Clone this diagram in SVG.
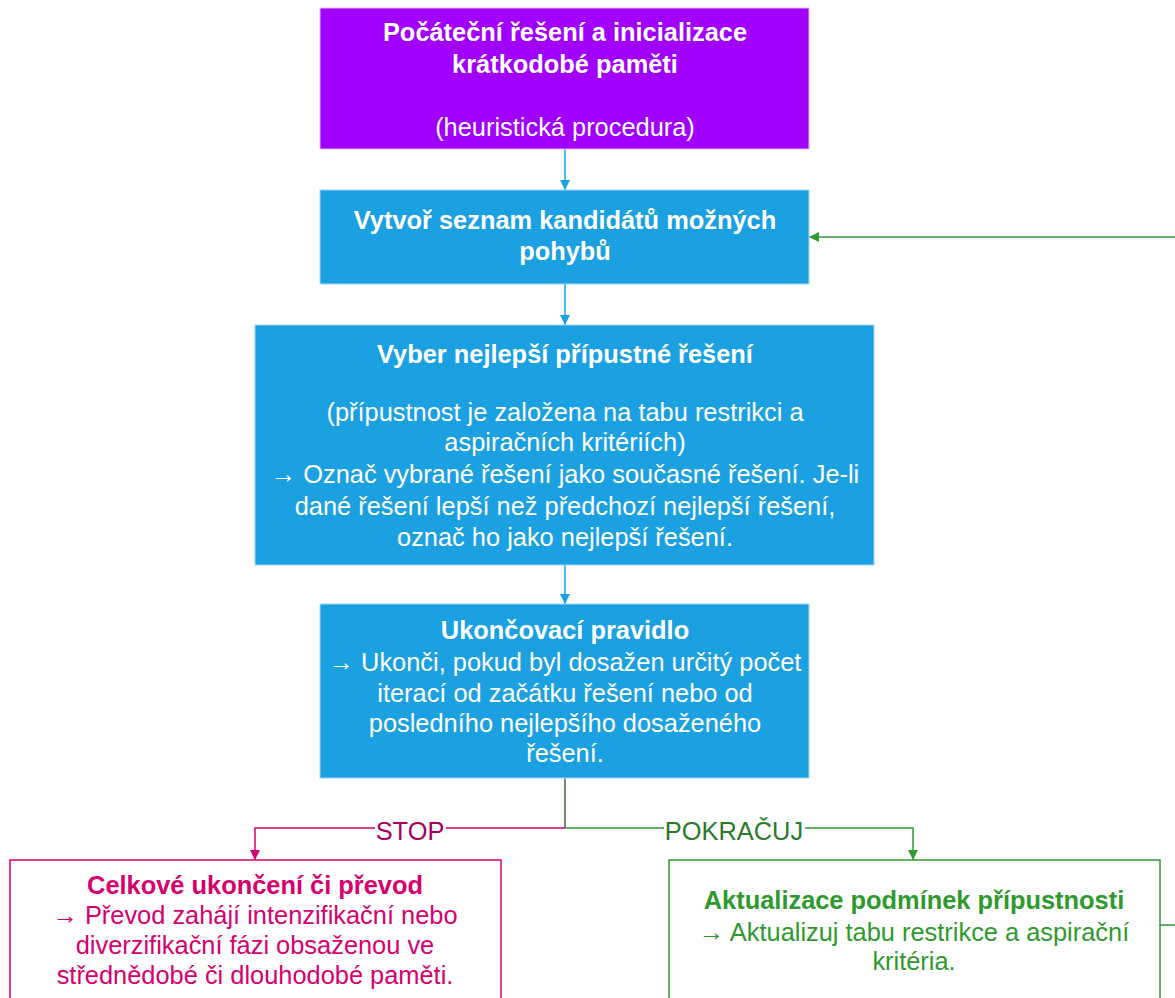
<svg xmlns="http://www.w3.org/2000/svg" width="1175" height="998" viewBox="0 0 1175 998">
  <style>
    text { font-family: "Liberation Sans", Arial, sans-serif; font-size: 25.4px; text-anchor: middle; }
    .b { font-weight: bold; }
    .w { fill: #ffffff; }
    .pk { fill: #d6006e; }
    .gr { fill: #2e9a2e; }
    .blue { fill: #1ba1e2; stroke: #9fd6f3; stroke-width: 1; }
  </style>
  <defs>
    <marker id="ab" viewBox="0 0 10 10" refX="10" refY="5" markerWidth="10" markerHeight="10" markerUnits="userSpaceOnUse" orient="auto">
      <path d="M0,0 L10,5 L0,10 z" fill="#1ba1e2"/>
    </marker>
    <marker id="ap" viewBox="0 0 10 10" refX="10" refY="5" markerWidth="10" markerHeight="10" markerUnits="userSpaceOnUse" orient="auto">
      <path d="M0,0 L10,5 L0,10 z" fill="#d80073"/>
    </marker>
    <marker id="ag" viewBox="0 0 10 10" refX="10" refY="5" markerWidth="10" markerHeight="10" markerUnits="userSpaceOnUse" orient="auto">
      <path d="M0,0 L10,5 L0,10 z" fill="#339933"/>
    </marker>
  </defs>

  <g id="connectors" fill="none" stroke-width="1.5">
    <path d="M565,149 V190" stroke="#1ba1e2" marker-end="url(#ab)"/>
    <path d="M565,284 V325" stroke="#1ba1e2" marker-end="url(#ab)"/>
    <path d="M565,565 V604" stroke="#1ba1e2" marker-end="url(#ab)"/>
    <path d="M565,828 H255 V860" stroke="#d80073" marker-end="url(#ap)"/>
    <path d="M565,828 H913 V860" stroke="#339933" marker-end="url(#ag)"/>
    <path d="M565,778 V828" stroke="#3f6a3a"/>
    <path d="M1160,925 H1175" stroke="#339933"/>
    <path d="M1175,237 H809" stroke="#339933" marker-end="url(#ag)"/>
    <rect x="375" y="816" width="71" height="26" fill="#ffffff" stroke="none"/>
    <rect x="664" y="816" width="141" height="26" fill="#ffffff" stroke="none"/>
    <text x="410" y="840" fill="#a8005a">STOP</text>
    <text x="734" y="840" fill="#2a7a2a">POKRAČUJ</text>
  </g>

  <g id="init">
    <rect x="320" y="8" width="489" height="141" fill="#a100ff" stroke="#e3b8ff" stroke-width="1"/>
    <text x="565" y="41" class="b w">Počáteční řešení a inicializace</text>
    <text x="565" y="73" class="b w">krátkodobé paměti</text>
    <text x="565" y="136" class="w">(heuristická procedura)</text>
  </g>

  <g id="candidates">
    <rect x="320" y="190" width="489" height="94" class="blue"/>
    <text x="565" y="229" class="b w">Vytvoř seznam kandidátů možných</text>
    <text x="565" y="260" class="b w">pohybů</text>
  </g>

  <g id="select">
    <rect x="255" y="325" width="619" height="240" class="blue"/>
    <text x="565" y="363" class="b w">Vyber nejlepší přípustné řešení</text>
    <text x="565" y="421" class="w">(přípustnost je založena na tabu restrikci a</text>
    <text x="565" y="451" class="w">aspiračních kritériích)</text>
    <text x="565" y="483" class="w">→ Označ vybrané řešení jako současné řešení. Je-li</text>
    <text x="565" y="515" class="w">dané řešení lepší než předchozí nejlepší řešení,</text>
    <text x="565" y="546" class="w">označ ho jako nejlepší řešení.</text>
  </g>

  <g id="stop-rule">
    <rect x="320" y="604" width="489" height="174" class="blue"/>
    <text x="565" y="639" class="b w">Ukončovací pravidlo</text>
    <text x="565" y="671" class="w">→ Ukonči, pokud byl dosažen určitý počet</text>
    <text x="565" y="702" class="w">iterací od začátku řešení nebo od</text>
    <text x="565" y="732" class="w">posledního nejlepšího dosaženého</text>
    <text x="565" y="762" class="w">řešení.</text>
  </g>

  <g id="termination">
    <rect x="10" y="860" width="491" height="160" fill="#ffffff" stroke="#d80073" stroke-width="1.5"/>
    <text x="255" y="894" class="b pk">Celkové ukončení či převod</text>
    <text x="255" y="924" class="pk">→ Převod zahájí intenzifikační nebo</text>
    <text x="255" y="954" class="pk">diverzifikační fázi obsaženou ve</text>
    <text x="255" y="984" class="pk">střednědobé či dlouhodobé paměti.</text>
  </g>

  <g id="update">
    <rect x="669" y="860" width="491" height="160" fill="#ffffff" stroke="#339933" stroke-width="1.5"/>
    <text x="914" y="909" class="b gr">Aktualizace podmínek přípustnosti</text>
    <text x="914" y="941" class="gr">→ Aktualizuj tabu restrikce a aspirační</text>
    <text x="914" y="970" class="gr">kritéria.</text>
  </g>
</svg>
